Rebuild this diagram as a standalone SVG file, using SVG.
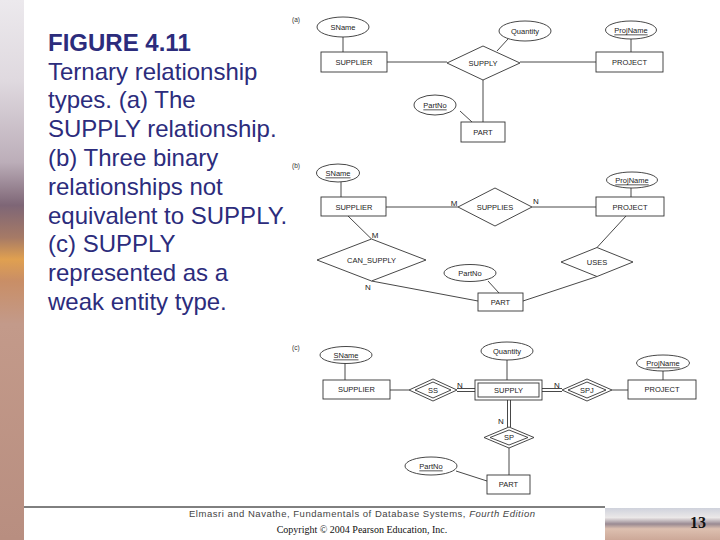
<svg xmlns="http://www.w3.org/2000/svg" width="720" height="540" viewBox="0 0 720 540">
<defs>
<linearGradient id="strip" x1="0" y1="0" x2="0" y2="1">
<stop offset="0" stop-color="#ece9ed"/>
<stop offset="0.15" stop-color="#dfd9df"/>
<stop offset="0.3" stop-color="#bcaeb9"/>
<stop offset="0.38" stop-color="#7e6676"/>
<stop offset="0.44" stop-color="#a67a66"/>
<stop offset="0.48" stop-color="#e0a050"/>
<stop offset="0.52" stop-color="#c98e66"/>
<stop offset="0.6" stop-color="#c39a8a"/>
<stop offset="1" stop-color="#b88e80"/>
</linearGradient>
<linearGradient id="corner" x1="0" y1="0" x2="0" y2="1">
<stop offset="0" stop-color="#cfd2dc"/>
<stop offset="0.3" stop-color="#ebe8e8"/>
<stop offset="0.5" stop-color="#9a8a92"/>
<stop offset="0.65" stop-color="#ddc0b0"/>
<stop offset="1" stop-color="#cca898"/>
</linearGradient>
<style>
.cap{font-family:"Liberation Sans",Arial,sans-serif;font-size:24px;fill:#2c2c7c}
.lbl{font-family:"Liberation Sans",Arial,sans-serif;font-size:7.5px;fill:#222;text-anchor:middle;dominant-baseline:central}
.card{font-family:"Liberation Sans",Arial,sans-serif;font-size:8px;fill:#222;text-anchor:middle}
.sub{font-family:"Liberation Sans",Arial,sans-serif;font-size:6.5px;fill:#333}
.u{text-decoration:underline}
.sh{fill:#fff;stroke:#333;stroke-width:0.9}
.ln{stroke:#333;stroke-width:0.9;fill:none}
</style>
</defs>
<rect width="720" height="540" fill="#fff"/>
<rect x="0" y="0" width="24" height="540" fill="url(#strip)"/>
<rect x="605" y="508" width="115" height="32" fill="url(#corner)"/>
<line x1="24" y1="507" x2="605" y2="507" stroke="#000" stroke-width="1"/>

<g id="caption">
<text class="cap" x="48" y="51" font-weight="bold">FIGURE 4.11</text>
<text class="cap" x="48" y="80">Ternary relationship</text>
<text class="cap" x="48" y="108">types. (a) The</text>
<text class="cap" x="48" y="137">SUPPLY relationship.</text>
<text class="cap" x="48" y="166">(b) Three binary</text>
<text class="cap" x="48" y="195">relationships not</text>
<text class="cap" x="48" y="224">equivalent to SUPPLY.</text>
<text class="cap" x="48" y="252">(c) SUPPLY</text>
<text class="cap" x="48" y="281">represented as a</text>
<text class="cap" x="48" y="310">weak entity type.</text>
</g>

<g id="footer">
<text x="362" y="517" text-anchor="middle" font-family="Liberation Sans, Arial, sans-serif" font-size="9.5" fill="#444" textLength="346" lengthAdjust="spacing">Elmasri and Navathe, Fundamentals of Database Systems, <tspan font-style="italic">Fourth Edition</tspan></text>
<text x="362" y="533" text-anchor="middle" font-family="Liberation Serif, Times New Roman, serif" font-size="10" fill="#111">Copyright © 2004 Pearson Education, Inc.</text>
<text x="698" y="528" text-anchor="middle" font-family="Liberation Serif, Times New Roman, serif" font-size="16" font-weight="bold" fill="#111">13</text>
</g>

<text class="sub" x="292" y="22">(a)</text>
<text class="sub" x="292" y="168">(b)</text>
<text class="sub" x="292" y="350">(c)</text>

<g id="connectors">
<line class="ln" x1="343" y1="36" x2="343" y2="52"/>
<line class="ln" x1="387" y1="62" x2="447" y2="62"/>
<line class="ln" x1="508" y1="39" x2="497" y2="51"/>
<line class="ln" x1="520" y1="62" x2="596" y2="62"/>
<line class="ln" x1="631" y1="39" x2="631" y2="52"/>
<line class="ln" x1="483" y1="80" x2="483" y2="122"/>
<line class="ln" x1="460" y1="111" x2="472" y2="122"/>
<line class="ln" x1="341" y1="182" x2="341" y2="197"/>
<line class="ln" x1="386" y1="207" x2="458" y2="207"/>
<line class="ln" x1="532" y1="207" x2="596" y2="207"/>
<line class="ln" x1="631" y1="188" x2="631" y2="197"/>
<line class="ln" x1="348" y1="216" x2="371.5" y2="239"/>
<line class="ln" x1="371.5" y1="281" x2="478" y2="301"/>
<line class="ln" x1="488" y1="281" x2="499" y2="293"/>
<line class="ln" x1="626" y1="216" x2="597" y2="247.5"/>
<line class="ln" x1="597" y1="276.5" x2="523" y2="301"/>
<line class="ln" x1="345" y1="363" x2="345" y2="380"/>
<line class="ln" x1="390" y1="390" x2="409" y2="390"/>
<line class="ln" x1="457" y1="388.5" x2="475" y2="388.5"/>
<line class="ln" x1="457" y1="391.5" x2="475" y2="391.5"/>
<line class="ln" x1="507" y1="360" x2="507" y2="380"/>
<line class="ln" x1="542" y1="388.5" x2="562" y2="388.5"/>
<line class="ln" x1="542" y1="391.5" x2="562" y2="391.5"/>
<line class="ln" x1="612" y1="390" x2="628" y2="390"/>
<line class="ln" x1="663" y1="371" x2="663" y2="380"/>
<line class="ln" x1="507.5" y1="400" x2="507.5" y2="427"/>
<line class="ln" x1="510.5" y1="400" x2="510.5" y2="427"/>
<line class="ln" x1="509" y1="448" x2="509" y2="475"/>
<line class="ln" x1="456" y1="471" x2="487" y2="481"/>
</g>

<g id="a-sname"><ellipse class="sh" cx="343" cy="27" rx="26" ry="10"/><text class="lbl" x="343" y="27">SName</text></g>
<g id="a-supplier"><rect class="sh" x="321" y="52" width="66" height="20"/><text class="lbl" x="354" y="62">SUPPLIER</text></g>
<g id="a-supply"><polygon class="sh" points="447,63 483,46 520,63 483,80"/><text class="lbl" x="483" y="63">SUPPLY</text></g>
<g id="a-quantity"><ellipse class="sh" cx="525" cy="31" rx="26" ry="10"/><text class="lbl" x="525" y="31">Quantity</text></g>
<g id="a-project"><rect class="sh" x="596" y="52" width="67" height="20"/><text class="lbl" x="629.5" y="62">PROJECT</text></g>
<g id="a-projname"><ellipse class="sh" cx="631" cy="30" rx="25.5" ry="9"/><text class="lbl u" x="631" y="30">ProjName</text></g>
<g id="a-part"><rect class="sh" x="461" y="122" width="44" height="20"/><text class="lbl" x="483" y="132">PART</text></g>
<g id="a-partno"><ellipse class="sh" cx="435" cy="105" rx="21" ry="10"/><text class="lbl u" x="435" y="105">PartNo</text></g>

<g id="b-sname"><ellipse class="sh" cx="338" cy="173" rx="21.5" ry="9"/><text class="lbl u" x="338" y="173">SName</text></g>
<g id="b-supplier"><rect class="sh" x="321" y="197" width="65" height="19"/><text class="lbl" x="354" y="207">SUPPLIER</text></g>
<g id="b-supplies"><polygon class="sh" points="458,207 495,188 532,207 495,226"/><text class="lbl" x="495" y="207">SUPPLIES</text></g>
<g id="b-project"><rect class="sh" x="596" y="197" width="68" height="19"/><text class="lbl" x="630" y="207">PROJECT</text></g>
<g id="b-projname"><ellipse class="sh" cx="632" cy="180" rx="25.5" ry="8"/><text class="lbl u" x="632" y="180">ProjName</text></g>
<g id="b-can-supply"><polygon class="sh" points="317,260 371.5,239 426,260 371.5,281"/><text class="lbl" x="371.5" y="260">CAN_SUPPLY</text></g>
<g id="b-uses"><polygon class="sh" points="561,262 597,247.5 633,262 597,276.5"/><text class="lbl" x="597" y="262">USES</text></g>
<g id="b-part"><rect class="sh" x="478" y="293" width="45" height="18"/><text class="lbl" x="500.5" y="302">PART</text></g>
<g id="b-partno"><ellipse class="sh" cx="470" cy="273" rx="26" ry="8.5"/><text class="lbl" x="470" y="273">PartNo</text></g>
<g id="b-cards">
<text class="card" x="454" y="206">M</text>
<text class="card" x="536" y="204">N</text>
<text class="card" x="375" y="238">M</text>
<text class="card" x="368" y="290">N</text>
</g>

<g id="c-sname"><ellipse class="sh" cx="346" cy="355" rx="26" ry="8.5"/><text class="lbl u" x="346" y="355">SName</text></g>
<g id="c-supplier"><rect class="sh" x="323" y="380" width="67" height="19"/><text class="lbl" x="356.5" y="389.5">SUPPLIER</text></g>
<g id="c-ss"><polygon class="sh" points="409,390 433,379 457,390 433,401"/><polygon class="ln" points="415,390 433,382 451,390 433,398"/><text class="lbl" x="433" y="390">SS</text></g>
<g id="c-supply"><rect class="sh" x="475" y="380" width="67" height="20"/><rect class="ln" x="478" y="383" width="61" height="14"/><text class="lbl" x="508.5" y="390">SUPPLY</text></g>
<g id="c-quantity"><ellipse class="sh" cx="507" cy="351" rx="26" ry="9"/><text class="lbl" x="507" y="351">Quantity</text></g>
<g id="c-spj"><polygon class="sh" points="562,390 587,379 612,390 587,401"/><polygon class="ln" points="568,390 587,382 606,390 587,398"/><text class="lbl" x="587" y="390">SPJ</text></g>
<g id="c-project"><rect class="sh" x="628" y="380" width="68" height="19"/><text class="lbl" x="662" y="389.5">PROJECT</text></g>
<g id="c-projname"><ellipse class="sh" cx="663" cy="363" rx="26.5" ry="8"/><text class="lbl u" x="663" y="363">ProjName</text></g>
<g id="c-sp"><polygon class="sh" points="484,437.5 509,427 534,437.5 509,448"/><polygon class="ln" points="490,437.5 509,430 528,437.5 509,445"/><text class="lbl" x="509" y="437.5">SP</text></g>
<g id="c-part"><rect class="sh" x="487" y="475" width="43" height="19"/><text class="lbl" x="508.5" y="484.5">PART</text></g>
<g id="c-partno"><ellipse class="sh" cx="431" cy="466" rx="26" ry="9"/><text class="lbl u" x="431" y="466">PartNo</text></g>
<g id="c-cards">
<text class="card" x="460" y="388">N</text>
<text class="card" x="557" y="388">N</text>
<text class="card" x="501" y="424">N</text>
</g>
</svg>
